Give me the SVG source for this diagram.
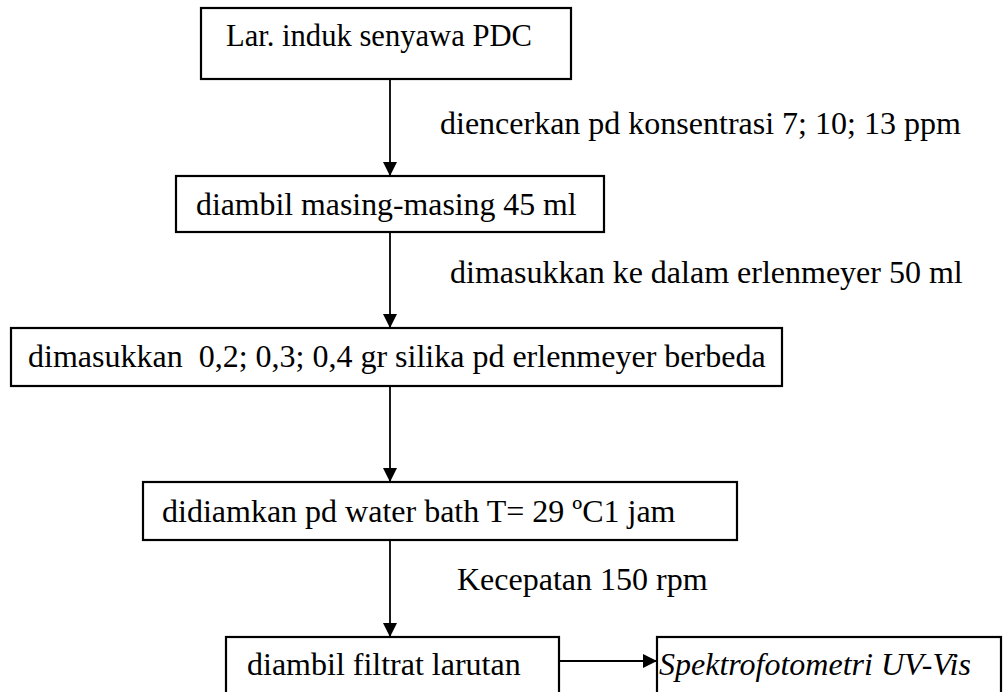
<svg xmlns="http://www.w3.org/2000/svg" width="1003" height="692" viewBox="0 0 1003 692">
<style>
.box{fill:#fff;stroke:#000;stroke-width:2.2}
.c{stroke:#000;stroke-width:1.8;fill:none}
</style>
<defs>
<marker id="ah" markerWidth="14" markerHeight="14" refX="14" refY="7" orient="auto" markerUnits="userSpaceOnUse" viewBox="0 0 14 14">
<path d="M0,0 L14,7 L0,14 Z" fill="#000"/>
</marker>
</defs>
<rect width="1003" height="692" fill="#fff"/>
<g font-family="Liberation Serif" font-size="32" fill="#000">
<g id="connectors">
<line class="c" x1="390" y1="79" x2="390" y2="176" marker-end="url(#ah)"/>
<line class="c" x1="390" y1="232" x2="390" y2="328" marker-end="url(#ah)"/>
<line class="c" x1="390" y1="386" x2="390" y2="482" marker-end="url(#ah)"/>
<line class="c" x1="390" y1="540" x2="390" y2="637" marker-end="url(#ah)"/>
<line class="c" x1="559" y1="661" x2="657" y2="661" marker-end="url(#ah)"/>
</g>
<g id="labels">
<text x="440" y="134">diencerkan pd konsentrasi 7; 10; 13 ppm</text>
<text x="450" y="283">dimasukkan ke dalam erlenmeyer 50 ml</text>
<text x="457" y="590">Kecepatan 150 rpm</text>
</g>
<g id="n1">
<rect class="box" x="201" y="8" width="370" height="71"/>
<text x="226" y="46" font-size="30.6">Lar. induk senyawa PDC</text>
</g>
<g id="n2">
<rect class="box" x="176" y="176" width="428" height="56"/>
<text x="196" y="215" font-size="31.8">diambil masing-masing 45 ml</text>
</g>
<g id="n3">
<rect class="box" x="11" y="328" width="771" height="58"/>
<text x="28" y="367" xml:space="preserve">dimasukkan  0,2; 0,3; 0,4 gr silika pd erlenmeyer berbeda</text>
</g>
<g id="n4">
<rect class="box" x="143" y="482" width="594" height="58"/>
<text x="162" y="522">didiamkan pd water bath T= 29 ºC1 jam</text>
</g>
<g id="n5">
<rect class="box" x="226" y="637" width="333" height="70"/>
<text x="247" y="675">diambil filtrat larutan</text>
</g>
<g id="n6">
<rect class="box" x="657" y="637" width="344" height="70"/>
<text x="659" y="675" font-style="italic">Spektrofotometri UV-Vis</text>
</g>
</g>
</svg>
